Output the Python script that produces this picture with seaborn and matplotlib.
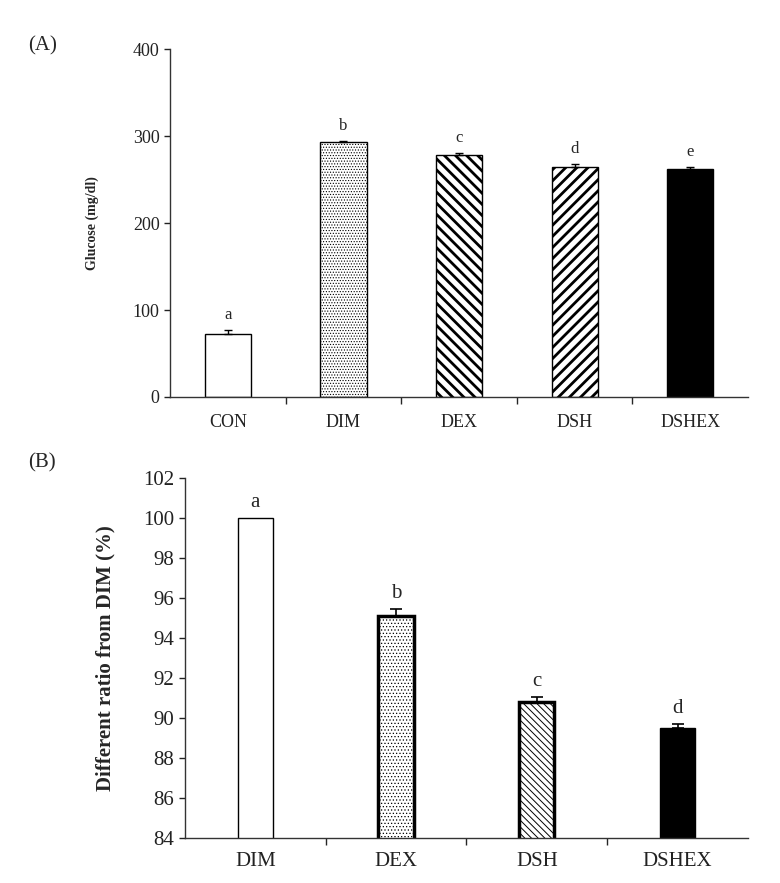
import matplotlib
matplotlib.use('Agg')
import matplotlib.pyplot as plt
import seaborn as sns
import numpy as np
from matplotlib.ticker import FixedLocator

# Panel A data
groups_a = ['CON', 'DIM', 'DEX', 'DSH', 'DSHEX']
glucose = [73, 293, 278.5, 265, 262.5]
glucose_err = [4, 1.5, 2.5, 2.5, 1.5]
letters_a = ['a', 'b', 'c', 'd', 'e']

# Panel B data
groups_b = ['DIM', 'DEX', 'DSH', 'DSHEX']
ratio = [100, 95.1, 90.8, 89.5]
ratio_err = [0, 0.35, 0.27, 0.22]
letters_b = ['a', 'b', 'c', 'd']

sns.set_theme(style='ticks')
plt.rcParams['font.family'] = ['Liberation Serif', 'DejaVu Serif']
plt.rcParams['hatch.color'] = 'black'

fig = plt.figure(figsize=(7.8, 8.83), dpi=100)
ax1 = fig.add_axes([0.218, 0.5504, 0.741, 0.394])
ax2 = fig.add_axes([0.237, 0.0510, 0.722, 0.4077])


def style_bars(ax, hatches, faces, lws, hlws):
    for p, h, fc, lw, hlw in zip(ax.patches, hatches, faces, lws, hlws):
        p.set_facecolor(fc)
        p.set_edgecolor('black')
        p.set_linewidth(lw)
        p.set_hatch(h)
        if hasattr(p, 'set_hatch_linewidth'):
            p.set_hatch_linewidth(hlw)


def finish_axis(ax, n):
    sns.despine(ax=ax)
    ax.set_xlim(-0.5, n - 0.5)
    ax.xaxis.set_minor_locator(FixedLocator(np.arange(0.5, n - 1, 1)))
    ax.tick_params(axis='x', which='major', length=0, labelsize=13, pad=12, colors='#222222')
    ax.tick_params(axis='x', which='minor', length=5, width=1, direction='out')
    ax.tick_params(axis='y', length=4, width=1, labelsize=13, colors='#222222')
    for s in ax.spines.values():
        s.set_linewidth(1)
        s.set_color('#333333')
    ax.set_xlabel('')


# Panel A
sns.barplot(x=groups_a, y=glucose, ax=ax1, width=0.4, color='white', saturation=1)
xa = np.arange(len(groups_a))
ax1.errorbar(xa, glucose, yerr=[np.zeros(len(glucose_err)), glucose_err], fmt='none',
             ecolor='black', elinewidth=1, capsize=3, capthick=1)
style_bars(ax1, ['', '......', '\\\\\\', '///', ''],
           ['white', 'white', 'white', 'white', 'black'],
           [1, 1, 1, 1, 1], [0.5, 0.5, 2.0, 2.0, 1])
ax1.set_ylim(0, 400)
ax1.set_yticks([0, 100, 200, 300, 400])
for x, v, e, l in zip(xa, glucose, glucose_err, letters_a):
    ax1.text(x, v + e + 8, l, ha='center', va='bottom', fontsize=12)
ax1.set_ylabel('Glucose (mg/dl)', fontsize=10, fontweight='bold', labelpad=24)
finish_axis(ax1, len(groups_a))

# Panel B
sns.barplot(x=groups_b, y=ratio, ax=ax2, width=0.25, color='white', saturation=1)
xb = np.arange(len(groups_b))
ax2.errorbar(xb[1:], ratio[1:], yerr=[np.zeros(3), ratio_err[1:]], fmt='none',
             ecolor='black', elinewidth=1.2, capsize=4, capthick=1.2)
style_bars(ax2, ['', '.....', '\\\\\\\\\\', ''],
           ['white', 'white', 'white', 'black'],
           [1, 2.5, 2.5, 1], [0.5, 0.5, 0.7, 1])
ax2.set_ylim(84, 102)
ax2.set_yticks(np.arange(84, 103, 2))
for x, v, e, l in zip(xb, ratio, ratio_err, letters_b):
    ax2.text(x, v + e + 0.3, l, ha='center', va='bottom', fontsize=15)
ax2.set_ylabel('Different ratio from DIM (%)', fontsize=15, fontweight='bold', labelpad=20)
finish_axis(ax2, len(groups_b))
ax2.tick_params(axis='x', which='major', labelsize=15, pad=10)
ax2.tick_params(axis='y', labelsize=15)

fig.text(0.036, 0.948, '(A)', fontsize=15, va='center')
fig.text(0.036, 0.476, '(B)', fontsize=15, va='center')

fig.savefig('out.png', dpi=100)
